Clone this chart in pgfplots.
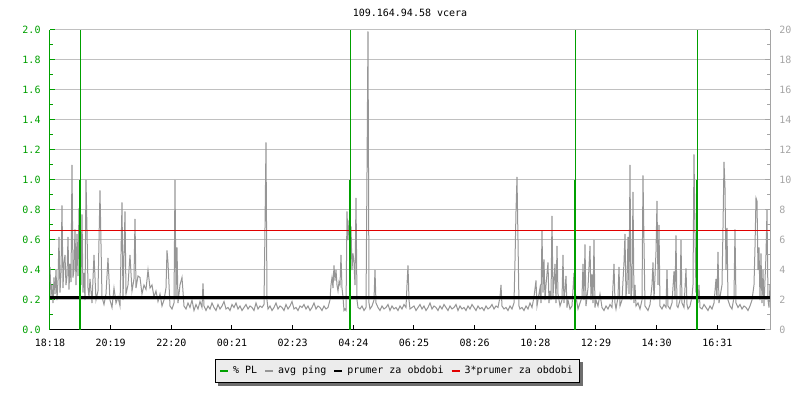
\documentclass[border=0pt]{standalone}
\usepackage{pgfplots}
\pgfplotsset{compat=1.18}
\usepackage{pgfplotstable}
\usepackage{fontspec}
\setmonofont{DejaVu Sans Mono}
\usetikzlibrary{backgrounds}
\definecolor{cgreen}{RGB}{0,160,0}
\definecolor{cping}{RGB}{150,150,150}
\definecolor{cgrid}{RGB}{192,192,192}
\definecolor{cred}{RGB}{225,0,0}
\definecolor{crgray}{RGB}{165,165,165}
\definecolor{clegbg}{RGB}{236,236,236}
\definecolor{cshadow}{RGB}{110,110,110}
\newcommand\tf{\ttfamily\fontsize{5}{6}\selectfont}
\pgfplotstableread{
x y
0 0.42
1 0.22
2 0.30
3 0.18
4 0.35
5 0.24
6 0.40
7 0.20
8 0.33
9 0.62
10 0.25
11 0.38
12 0.83
13 0.28
14 0.45
15 0.50
16 0.30
17 0.36
18 0.62
19 0.27
20 0.44
21 0.32
22 1.10
23 0.35
24 0.40
25 0.67
26 0.30
27 0.64
28 0.36
29 0.81
30 0.55
31 0.30
32 0.77
33 0.25
34 0.38
35 0.20
36 1.00
37 0.67
38 0.28
39 0.22
40 0.34
42 0.18
44 0.50
46 0.20
48 0.26
50 0.93
52 0.22
54 0.17
56 0.24
58 0.48
60 0.20
62 0.15
64 0.28
66 0.18
68 0.22
70 0.16
72 0.85
73 0.20
75 0.79
76 0.24
78 0.30
80 0.50
82 0.26
84 0.34
85 0.74
86 0.28
88 0.36
90 0.35
92 0.24
94 0.30
96 0.27
98 0.40
100 0.28
102 0.30
104 0.22
106 0.26
108 0.19
110 0.24
112 0.16
114 0.20
116 0.28
117 0.53
118 0.45
120 0.16
122 0.14
124 0.18
125 1.00
126 0.22
127 0.55
128 0.18
130 0.30
132 0.35
134 0.16
136 0.14
138 0.18
140 0.15
142 0.20
144 0.13
146 0.17
148 0.14
150 0.19
152 0.15
153 0.31
154 0.16
156 0.13
158 0.16
160 0.14
162 0.18
164 0.15
166 0.13
168 0.17
170 0.14
172 0.16
174 0.19
176 0.14
178 0.15
180 0.13
182 0.17
184 0.15
186 0.18
188 0.14
190 0.16
192 0.13
194 0.15
196 0.17
198 0.14
200 0.16
202 0.15
204 0.13
206 0.18
208 0.14
210 0.16
212 0.15
214 0.17
215 0.68
216 1.25
217 0.20
218 0.14
220 0.16
222 0.13
224 0.15
226 0.18
228 0.14
230 0.16
232 0.15
234 0.13
236 0.17
238 0.14
240 0.16
242 0.19
244 0.14
246 0.15
248 0.13
250 0.16
252 0.15
254 0.17
256 0.14
258 0.16
260 0.13
262 0.15
264 0.18
266 0.14
268 0.16
270 0.15
272 0.13
274 0.16
276 0.14
278 0.15
280 0.20
281 0.30
282 0.35
283 0.28
284 0.43
285 0.33
286 0.40
287 0.30
288 0.26
289 0.32
290 0.30
291 0.50
292 0.28
293 0.22
294 0.13
295 0.14
296 0.13
297 0.79
298 0.60
299 0.73
300 0.55
301 0.69
302 0.40
303 0.51
304 0.45
305 0.30
306 0.88
307 0.20
308 0.15
310 0.14
312 0.16
314 0.13
316 0.15
317 1.05
318 1.99
319 0.18
320 0.14
322 0.16
324 0.20
325 0.40
326 0.18
328 0.15
330 0.13
332 0.16
334 0.14
336 0.15
338 0.17
340 0.13
342 0.16
344 0.14
346 0.15
348 0.13
350 0.16
352 0.14
354 0.17
356 0.15
357 0.30
358 0.43
359 0.20
360 0.14
362 0.15
364 0.16
366 0.13
368 0.15
370 0.17
372 0.14
374 0.16
376 0.13
378 0.15
380 0.18
382 0.14
384 0.16
386 0.15
388 0.13
390 0.16
392 0.14
394 0.17
396 0.15
398 0.13
400 0.16
402 0.14
404 0.15
406 0.17
408 0.13
410 0.16
412 0.14
414 0.15
416 0.13
418 0.16
420 0.14
422 0.17
424 0.15
426 0.13
428 0.16
430 0.14
432 0.15
434 0.13
436 0.16
438 0.14
440 0.15
442 0.17
444 0.14
446 0.16
448 0.15
450 0.22
451 0.30
452 0.16
454 0.14
456 0.15
458 0.13
460 0.16
462 0.14
464 0.18
465 0.46
466 0.79
467 1.02
468 0.60
469 0.16
470 0.14
472 0.15
474 0.13
476 0.16
478 0.14
480 0.18
482 0.15
484 0.22
486 0.33
487 0.16
488 0.20
490 0.28
491 0.18
492 0.66
493 0.25
494 0.47
495 0.20
496 0.30
498 0.45
499 0.18
500 0.26
501 0.20
502 0.76
503 0.22
505 0.44
506 0.18
507 0.56
508 0.24
510 0.16
512 0.20
513 0.50
514 0.18
516 0.36
517 0.15
518 0.20
520 0.14
522 0.16
524 0.38
525 0.16
526 0.22
528 0.14
530 0.18
532 0.22
533 0.44
534 0.20
535 0.57
536 0.16
538 0.28
540 0.56
541 0.20
542 0.37
543 0.18
544 0.60
545 0.15
546 0.20
548 0.16
550 0.24
552 0.15
554 0.13
556 0.16
558 0.14
560 0.17
562 0.15
564 0.44
565 0.18
566 0.14
568 0.22
569 0.42
570 0.16
572 0.20
574 0.45
575 0.64
576 0.22
577 0.30
578 0.62
579 0.24
580 1.10
581 0.20
582 0.28
583 0.92
584 0.18
585 0.30
586 0.16
588 0.18
590 0.14
592 0.20
593 1.03
594 0.58
595 0.16
596 0.15
598 0.13
600 0.17
602 0.30
603 0.45
604 0.20
606 0.52
607 0.86
608 0.30
609 0.70
610 0.16
612 0.14
614 0.17
616 0.15
617 0.40
618 0.16
620 0.14
622 0.18
624 0.39
625 0.22
626 0.63
627 0.16
628 0.15
630 0.20
631 0.60
632 0.18
634 0.15
636 0.41
637 0.17
638 0.14
640 0.16
642 0.22
643 0.30
644 1.17
645 0.65
646 0.25
647 0.30
648 0.18
649 0.30
650 0.15
652 0.14
654 0.17
656 0.15
658 0.13
660 0.16
662 0.14
664 0.18
666 0.34
667 0.20
668 0.52
669 0.18
670 0.22
672 0.30
673 0.68
674 1.12
675 0.95
676 0.40
677 0.68
678 0.20
680 0.16
682 0.14
684 0.22
685 0.67
686 0.18
688 0.15
690 0.17
692 0.14
694 0.16
696 0.15
698 0.13
700 0.16
702 0.20
704 0.30
705 0.55
706 0.88
707 0.86
708 0.40
709 0.55
710 0.20
711 0.51
712 0.18
713 0.40
714 0.16
716 0.50
717 0.80
718 0.20
719 0.15
720 0.30
}\pingdata
\begin{document}
\begin{tikzpicture}
\begin{axis}[
  at={(0,0)}, anchor=south west,
  scale only axis, width=360pt, height=150pt,
  xmin=0, xmax=720, ymin=0, ymax=2,
  axis x line*=bottom, axis y line*=left,
  x axis line style={black, line width=0.5pt},
  y axis line style={cgreen, line width=0.5pt},
  xtick={0,60.667,121.333,182,242.667,303.333,364,424.667,485.333,546,606.667,667.333},
  xticklabels={18:18,20:19,22:20,00:21,02:23,04:24,06:25,08:26,10:28,12:29,14:30,16:31},
  ytick={0,0.2,0.4,0.6,0.8,1.0,1.2,1.4,1.6,1.8,2.0},
  yticklabels={0.0,0.2,0.4,0.6,0.8,1.0,1.2,1.4,1.6,1.8,2.0},
  minor y tick num=1,
  major tick length=2.5pt, minor tick length=1.5pt,
  x tick style={black, line width=0.5pt},
  y tick style={cgreen, line width=0.5pt},
  tick align=inside,
  ymajorgrids, grid style={cgrid, line width=0.5pt},
  ticklabel style={font=\tf},
  xticklabel style={black, yshift=-1pt},
  yticklabel style={cgreen, xshift=-1.2pt},
  title={109.164.94.58 vcera},
  every axis title/.style={at={(0.5,1)}, anchor=base, yshift=6.5pt, font=\tf},
  legend columns=4,
  legend cell align=left,
  legend image code/.code={\draw[#1] (0pt,0pt) -- (4pt,0pt);},
  legend style={name=leg, at={(0.482,-0.137)}, anchor=center, draw=black, line width=0.5pt,
    fill=clegbg, font=\tf, inner xsep=2pt, inner ysep=1.5pt,
    /tikz/every odd column/.append style={column sep=1pt},
    /tikz/every even column/.append style={column sep=2.5pt},
    nodes={inner xsep=1pt, inner ysep=1.5pt}},
]
\addplot[cping, line width=0.5pt, forget plot] table[x=x,y=y] {\pingdata};
\addplot[black, line width=1.5pt, forget plot] coordinates {(0,0.215) (720,0.215)};
\addplot[cred, line width=0.5pt, forget plot] coordinates {(0,0.66) (720,0.66)};
\addplot[cgreen, line width=0.5pt, ycomb, forget plot] coordinates {(30.5,2) (300.5,2) (525.5,2) (647.5,2)};
\addplot[cgreen, line width=1pt, ycomb, forget plot] coordinates {(30.5,1) (300.5,1) (525.5,1) (647.5,1)};
\addlegendimage{cgreen, line width=1pt}
\addlegendentry{\% PL}
\addlegendimage{cping, line width=1pt}
\addlegendentry{avg ping}
\addlegendimage{black, line width=1pt}
\addlegendentry{prumer za obdobi}
\addlegendimage{cred, line width=1pt}
\addlegendentry{3*prumer za obdobi}
\end{axis}
\begin{axis}[
  at={(0,0)}, anchor=south west,
  scale only axis, width=360pt, height=150pt,
  xmin=0, xmax=720, ymin=0, ymax=20,
  axis x line=none, axis y line*=right,
  y axis line style={crgray, line width=0.5pt},
  ytick={0,2,4,6,8,10,12,14,16,18,20},
  minor y tick num=1,
  major tick length=2.5pt, minor tick length=1.5pt,
  y tick style={crgray, line width=0.5pt},
  tick align=inside,
  yticklabel style={font=\tf, crgray, xshift=1.2pt},
  /pgf/number format/assume math mode=true,
]
\addplot[draw=none] coordinates {(0,0) (720,20)};
\end{axis}
\begin{pgfonlayer}{background}
\fill[cshadow] ([xshift=1.5pt,yshift=-1.5pt]leg.south west) rectangle ([xshift=1.5pt,yshift=-1.5pt]leg.north east);
\end{pgfonlayer}
\pgfresetboundingbox
\useasboundingbox (-25pt,-35pt) rectangle (375pt,165pt);
\end{tikzpicture}
\end{document}
